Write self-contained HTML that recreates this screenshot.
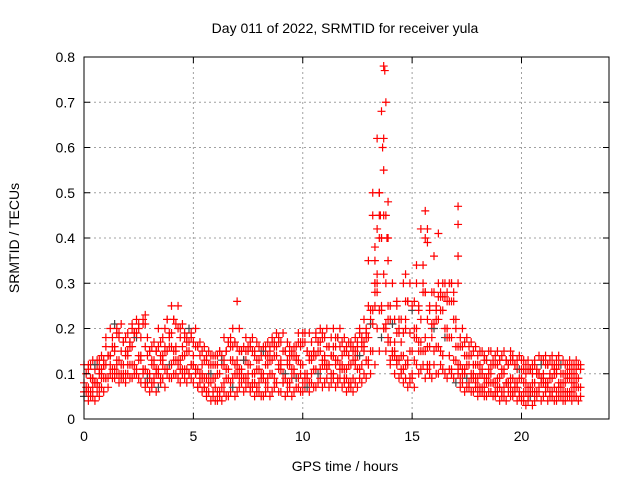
<!DOCTYPE html>
<html><head><meta charset="utf-8"><style>
body{margin:0;background:#fff}
svg text{font-family:"Liberation Sans",sans-serif;font-size:14px;fill:#000}
</style></head><body>
<svg id="c" width="640" height="480" xmlns="http://www.w3.org/2000/svg">
<rect width="640" height="480" fill="#fff"/>
<g id="grid"></g>
<g id="marks"></g>
<rect x="84" y="57" width="525" height="362" fill="none" stroke="#000" stroke-width="1"/>
<g id="ticks"></g>
<text x="345" y="33" text-anchor="middle">Day 011 of 2022, SRMTID for receiver yula</text>
<text x="345" y="471" text-anchor="middle">GPS time / hours</text>
<text transform="translate(19,238) rotate(-90)" text-anchor="middle">SRMTID / TECUs</text>
</svg>
<script>
const xTicks=[0,5,10,15,20];
const yTicks=[0,0.1,0.2,0.3,0.4,0.5,0.6,0.7,0.8];
const yTickLabels=["0","0.1","0.2","0.3","0.4","0.5","0.6","0.7","0.8"];
const binStart=0, binStep=0.2;
const lo=[5,4,5,6,7,9,10,9,8,9, 10,9,11,8,7,6,8,7,9,10, 9,10,8,9,10,8,7,6,5,4, 4,5,6,5,7,6,8,7,6,5, 6,5,7,6,8,6,5,7,6,7, 6,7,8,7,9,8,7,9,8,7, 6,7,8,9,10,12,15,20,18,15, 12,10,9,8,7,10,12,11,9,10, 12,10,11,9,10,8,7,6,7,6, 5,6,5,6,5,4,5,6,5,4, 4,3,5,4,6,5,4,5,4,5, 4,5,5,4];
const mid=[8,7,9,8,10,12,14,16,13,12, 14,16,18,13,11,10,12,11,13,15, 16,15,13,14,15,12,11,10,9,10, 9,10,12,11,13,12,11,13,12,10, 11,10,12,13,14,12,10,12,11,13, 12,10,13,14,15,13,12,14,13,12, 11,12,13,14,16,18,24,30,24,20, 17,15,13,14,12,15,18,17,15,16, 20,22,24,20,18,13,12,11,12,10, 9,10,9,10,8,9,10,8,9,8, 9,8,7,8,10,9,8,9,10,8, 8,9,8,9];
const hi=[12,11,13,12,14,16,20,21,18,17, 19,21,22,18,16,15,17,16,18,22, 25,21,18,19,20,17,16,15,14,14, 14,15,18,17,20,16,15,18,17,15, 16,15,17,18,19,17,15,16,16,19, 19,15,17,19,20,18,16,20,18,17, 16,17,18,20,22,25,45,62,40,30, 25,22,20,30,26,24,30,42,28,24, 28,30,30,28,30,20,18,17,16,15, 14,15,13,15,14,13,15,12,14,13, 13,12,11,13,14,13,12,14,13,12, 12,13,12,12];
const qa=[10,6,12,7,13,9,18,12,15,10, 17,12,20,10,14,8,15,9,20,12, 22,12,16,11,18,10,14,7,12,6, 12,7,15,8,17,9,13,10,15,7, 14,8,16,9,17,8,13,9,14,10, 17,8,15,10,18,11,14,12,16,9, 14,9,16,12,19,15,35,50,32,25, 21,13,17,22,19,13,25,34,22,18, 25,15,27,14,26,11,16,9,14,8, 12,7,11,8,12,6,13,7,12,6, 11,5,10,6,12,7,10,7,12,6, 10,6,11,7];
const qb=[6,9,8,11,9,14,11,19,10,15, 12,19,14,21,9,13,10,14,11,19, 13,20,11,17,12,16,9,13,8,12, 6,13,9,16,10,15,9,16,8,13, 9,14,10,16,11,15,8,14,9,17, 9,14,11,17,12,16,10,18,11,15, 8,15,11,17,13,21,28,40,45,22, 14,19,11,26,9,20,15,28,12,21, 16,27,18,26,22,16,10,14,9,12, 7,13,8,12,7,11,8,13,7,11, 6,11,6,10,8,12,6,11,7,10, 6,10,7,11];
const extraT=[13.5,13.6,13.7,13.75,13.8,13.65,13.7,13.55,13.4,13.3,13.9,13.85,13.9,13.3,15.6,15.6,15.7,16.2,17.1,17.1,17.1,16.0,14.3,14.7,16.8,2.8,7.0];
const extraV=[0.5,0.68,0.78,0.77,0.7,0.6,0.55,0.45,0.42,0.38,0.48,0.4,0.35,0.3,0.46,0.4,0.39,0.41,0.47,0.43,0.36,0.36,0.26,0.32,0.3,0.23,0.26];
const X0=84,X1=609,Y0=419,Y1=57,XMAX=24,YMAX=0.8;
const sx=t=>X0+(X1-X0)*t/XMAX, sy=v=>Y0-(Y0-Y1)*v/YMAX;
const NS="http://www.w3.org/2000/svg";
function mk(tag,attrs,parent){const e=document.createElementNS(NS,tag);for(const k in attrs)e.setAttribute(k,attrs[k]);parent.appendChild(e);return e;}
const grid=document.getElementById('grid'),ticks=document.getElementById('ticks'),marks=document.getElementById('marks');
xTicks.forEach(t=>{const x=sx(t);
 if(t>0){const g=mk('line',{x1:x,x2:x,y1:Y1,y2:Y0,stroke:'#a0a0a0','stroke-dasharray':'2,3'},grid);
 
 }
 mk('line',{x1:x,x2:x,y1:Y0,y2:Y0-6,stroke:'#000'},ticks);
 mk('line',{x1:x,x2:x,y1:Y1,y2:Y1+6,stroke:'#000'},ticks);
 const l=mk('text',{x:x,y:Y0+22,'text-anchor':'middle'},ticks);l.textContent=String(t);
 
 
});
yTicks.forEach((v,i)=>{const y=sy(v);
 if(v>0&&v<YMAX){const g=mk('line',{x1:X0,x2:X1,y1:y,y2:y,stroke:'#a0a0a0','stroke-dasharray':'2,3'},grid);
 
 }
 mk('line',{x1:X0,x2:X0+6,y1:y,y2:y,stroke:'#000'},ticks);
 mk('line',{x1:X1,x2:X1-6,y1:y,y2:y,stroke:'#000'},ticks);
 const l=mk('text',{x:X0-9,y:y+5,'text-anchor':'end'},ticks);l.textContent=yTickLabels[i];
 
 
});
function plus(t,v,col){const x=sx(t),y=sy(v);
 const p=mk('path',{d:`M${x-4},${y}h8M${x},${y-4}v8`,stroke:col,'stroke-width':1.2,fill:'none'},marks);
 
 
}
const series=[lo,mid,hi,qa,qb];
series.forEach((arr,s)=>arr.forEach((v,i)=>{
 const t=binStart+i*binStep;
 const off=s<3?0:binStep/2;
 plus(t+off,v/100,(i+s*5)%17===0?'#444':'#f00');
 const j=i+((s%2)?1:-1);
 if(j>=0&&j<arr.length) plus(t+binStep/2-off,(s%2?arr[j]:arr[j])/100,'#f00');
}));
extraT.forEach((t,i)=>plus(t,extraV[i],'#f00'));
</script>
</body></html>
